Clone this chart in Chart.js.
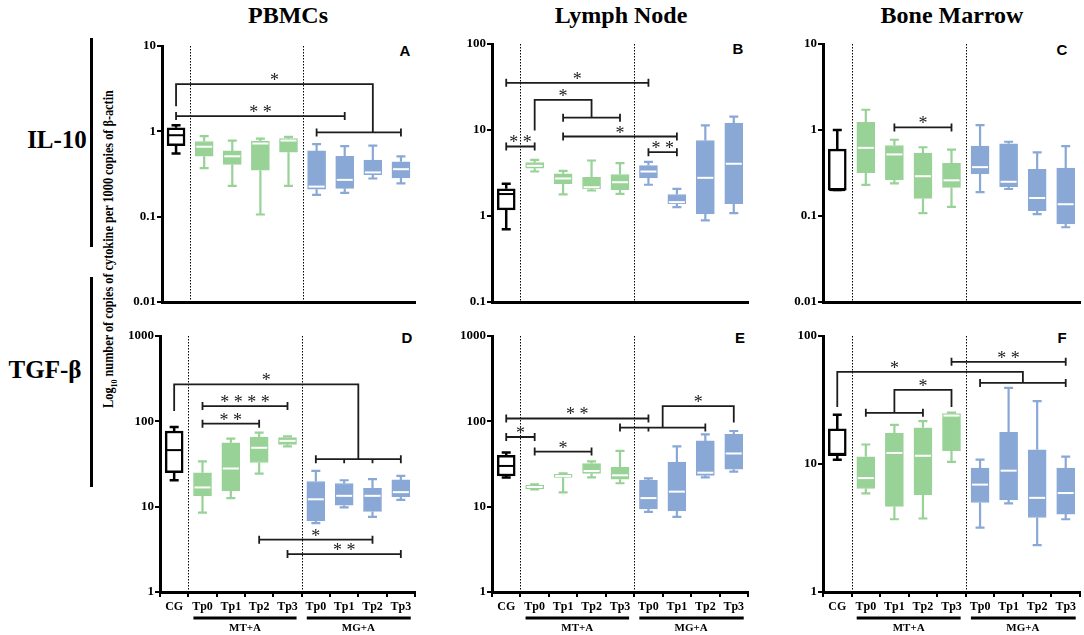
<!DOCTYPE html>
<html>
<head>
<meta charset="utf-8">
<script src="https://cdn.jsdelivr.net/npm/chart.js@4.4.0/dist/chart.umd.min.js"></script>
<style>
body { margin: 0; width: 1084px; height: 635px; position: relative; background: #fff; overflow: hidden; font-family: "Liberation Serif", serif; }
.t { position: absolute; font-weight: bold; white-space: nowrap; color: #000; transform: translate(-50%, -50%); }
.letter { font-family: "Liberation Sans", Arial, sans-serif; font-size: 15px; }
.rule { position: absolute; background: #000; width: 3px; }
canvas { position: absolute; }
</style>
</head>
<body>
<div class="t" style="left:288px;top:15px;font-size:24px">PBMCs</div>
<div class="t" style="left:621px;top:15px;font-size:24px">Lymph Node</div>
<div class="t" style="left:952px;top:15px;font-size:24px">Bone Marrow</div>

<div class="t" style="left:57px;top:140px;font-size:25px">IL-10</div>
<div class="t" style="left:45px;top:370px;font-size:25px">TGF-β</div>
<div class="rule" style="left:90px;top:38px;height:209px"></div>
<div class="rule" style="left:90px;top:277px;height:210px"></div>
<div class="t" id="ytitle" style="left:110px;top:249px;font-size:14px">Log<sub style="font-size:9px">10</sub> number of copies of cytokine per 1000 copies of β-actin</div>

<div class="t letter" style="left:405px;top:50px">A</div>
<div class="t letter" style="left:738px;top:48px">B</div>
<div class="t letter" style="left:1062px;top:49px">C</div>
<div class="t letter" style="left:407px;top:337px">D</div>
<div class="t letter" style="left:740px;top:337px">E</div>
<div class="t letter" style="left:1062px;top:337px">F</div>

<canvas id="pA"></canvas>
<canvas id="pB"></canvas>
<canvas id="pC"></canvas>
<canvas id="pD"></canvas>
<canvas id="pE"></canvas>
<canvas id="pF"></canvas>

<script>
// categories: control, then four time points for each treatment group
const categories = ['CG', 'Tp0', 'Tp1', 'Tp2', 'Tp3', 'Tp0', 'Tp1', 'Tp2', 'Tp3'];
const groupLabels = ['MT+A', 'MG+A'];

// each box: [min, q1, median, q3, max]
const pbmcIL10 = [
    [0.55, 0.68, 0.90, 1.10, 1.18],
    [0.37, 0.51, 0.66, 0.76, 0.88],
    [0.23, 0.41, 0.51, 0.59, 0.78],
    [0.106, 0.35, 0.72, 0.77, 0.82],
    [0.23, 0.57, 0.78, 0.82, 0.86],
    [0.18, 0.21, 0.225, 0.59, 0.71],
    [0.19, 0.215, 0.27, 0.51, 0.67],
    [0.28, 0.31, 0.33, 0.46, 0.68],
    [0.245, 0.285, 0.36, 0.44, 0.51]
];
const lymphIL10 = [
    [0.70, 1.18, 1.8, 2.07, 2.37],
    [3.29, 3.6, 3.83, 4.19, 4.5],
    [1.78, 2.37, 2.73, 3.09, 3.35],
    [1.98, 2.07, 2.16, 2.82, 4.42],
    [1.81, 2.02, 2.47, 3.04, 4.11],
    [2.31, 2.78, 3.29, 3.86, 4.27],
    [1.27, 1.39, 1.45, 1.78, 2.07],
    [0.89, 1.06, 2.78, 7.55, 11.3],
    [1.08, 1.39, 4.05, 12, 14.3]
];
const marrowIL10 = [
    [0.2, 0.2, 0.2, 0.60, 1.0],
    [0.23, 0.32, 0.62, 1.23, 1.72],
    [0.24, 0.264, 0.52, 0.66, 0.77],
    [0.108, 0.16, 0.29, 0.54, 0.63],
    [0.128, 0.215, 0.26, 0.41, 0.59],
    [0.19, 0.31, 0.37, 0.65, 1.14],
    [0.206, 0.22, 0.25, 0.69, 0.73],
    [0.105, 0.115, 0.162, 0.35, 0.55],
    [0.074, 0.081, 0.137, 0.36, 0.65]
];
const pbmcTGF = [
    [20.4, 25, 46, 77, 86],
    [8.5, 13.4, 16.8, 25, 34],
    [12.6, 15.3, 28, 56, 62.7],
    [24.4, 32.9, 49, 65.5, 73.8],
    [51, 53.8, 59, 64.5, 66.8],
    [6.4, 6.8, 12.2, 19.7, 26.2],
    [9.8, 10.4, 13.4, 18.7, 20.4],
    [7.6, 8.8, 13.4, 16.4, 21],
    [12, 13, 14.8, 20.6, 22.9]
];
const lymphTGF = [
    [21.9, 22.9, 30, 40, 43],
    [15.9, 16.3, 17, 17.8, 18.3],
    [14.7, 22, 22.9, 24, 24.6],
    [22, 24.5, 26.2, 32, 34],
    [18.8, 21, 23.3, 29, 45],
    [8.7, 9.4, 12.6, 20.4, 21.5],
    [7.6, 8.9, 15, 33.4, 51],
    [22, 23.3, 25, 59, 70.5],
    [25.8, 27.5, 42, 70.5, 77]
];
const marrowTGF = [
    [10.8, 11.6, 12, 18.8, 24.2],
    [5.9, 6.44, 7.76, 11.4, 14.2],
    [3.7, 4.66, 12.2, 17.4, 20.2],
    [3.75, 5.76, 11.6, 19.2, 21.6],
    [10.4, 12.7, 23.9, 24.8, 25.2],
    [3.18, 5.0, 6.9, 9.3, 10.8],
    [4.92, 5.25, 8.87, 17.7, 39.3],
    [2.32, 3.82, 5.44, 12.9, 31],
    [3.7, 4.06, 5.93, 9.3, 11.4]
];

// y axis decades
const ticksIL10 = [0.01, 0.1, 1, 10];
const ticksLymphIL10 = [0.1, 1, 10, 100];
const ticksTGF = [1, 10, 100, 1000];
const ticksMarrowTGF = [1, 10, 100];

// significance marks: bars {from, to, at} or linked paths [[index, value], ...]
const pbmcIL10Sig = [
    { path: [[0, 1.97], [0, 3.57], [7, 3.57], [7, 0.97]], label: '*' },
    { from: 0, to: 6, at: 1.51, label: '**' },
    { from: 5, to: 8, at: 0.97, label: '' }
];
const lymphIL10Sig = [
    { from: 0, to: 5, at: 35.4, label: '*' },
    { path: [[1, 9.87], [1, 22.4], [3, 22.4], [3, 13.9]], label: '*' },
    { from: 2, to: 4, at: 13.9, label: '' },
    { from: 2, to: 6, at: 8.4, label: '*' },
    { from: 0, to: 1, at: 6.43, label: '**' },
    { from: 5, to: 6, at: 5.52, label: '**' }
];
const marrowIL10Sig = [
    { from: 2, to: 4, at: 1.07, label: '*' }
];
const pbmcTGFSig = [
    { path: [[0, 132], [0, 271], [6.5, 271], [6.5, 36]], label: '*' },
    { from: 5, to: 8, at: 36, ticks: [6, 7], label: '' },
    { from: 1, to: 4, at: 151, label: '****' },
    { from: 1, to: 3, at: 94, label: '**' },
    { from: 3, to: 7, at: 4.1, label: '*' },
    { from: 4, to: 8, at: 2.78, label: '**' }
];
const lymphTGFSig = [
    { from: 0, to: 5, at: 108, label: '**' },
    { from: 0, to: 1, at: 65.5, label: '*' },
    { from: 1, to: 3, at: 44.2, label: '*' },
    { from: 4, to: 7, at: 84.4, ticks: [5], label: '' },
    { path: [[5.5, 84.4], [5.5, 151], [8, 151], [8, 96.6]], label: '*' }
];
const marrowTGFSig = [
    { from: 4, to: 8, at: 62.8, label: '**' },
    { path: [[0, 27.9], [0, 52.4], [6.5, 52.4], [6.5, 43]], label: '*', labelAt: 2 },
    { from: 5, to: 8, at: 43, label: '' },
    { from: 1, to: 3, at: 25.1, label: '' },
    { path: [[2, 25.1], [2, 38], [4, 38], [4, 27.9]], label: '*' }
];

const green = '#98d296';
const blue = '#89a8d6';
const serif = '"Liberation Serif", "Times New Roman", serif';

Chart.defaults.font.family = serif;
Chart.defaults.color = '#000';

const boxPlugin = {
    id: 'boxes',
    afterDatasetsDraw(chart) {
        const { ctx, chartArea: a, scales: { x, y } } = chart;
        const opts = chart.options.plugins.boxes;
        ctx.save();

        // dotted group separators
        ctx.strokeStyle = '#000';
        ctx.lineWidth = 1;
        ctx.setLineDash([1.5, 1.5]);
        [0.5, 4.5].forEach(v => {
            const px = Math.round(x.getPixelForValue(v)) + 0.5;
            ctx.beginPath();
            ctx.moveTo(px, a.top);
            ctx.lineTo(px, a.bottom);
            ctx.stroke();
        });
        ctx.setLineDash([]);

        // whiskers and medians
        opts.values.forEach((b, i) => {
            const cx = x.getPixelForValue(i);
            const [mn, q1, md, q3, mx] = b.map(v => y.getPixelForValue(v));
            ctx.strokeStyle = i === 0 ? '#000' : (i < 5 ? green : blue);
            ctx.lineWidth = i === 0 ? 2.5 : 2.2;
            ctx.beginPath();
            ctx.moveTo(cx, q3); ctx.lineTo(cx, mx);
            ctx.moveTo(cx - 4.5, mx); ctx.lineTo(cx + 4.5, mx);
            ctx.moveTo(cx, q1); ctx.lineTo(cx, mn);
            ctx.moveTo(cx - 4.5, mn); ctx.lineTo(cx + 4.5, mn);
            ctx.stroke();
            ctx.strokeStyle = i === 0 ? '#000' : '#fff';
            ctx.lineWidth = 2;
            ctx.beginPath();
            ctx.moveTo(cx - 8, md);
            ctx.lineTo(cx + 8, md);
            ctx.stroke();
        });

        // significance brackets
        ctx.strokeStyle = '#1c1c1c';
        ctx.fillStyle = '#1c1c1c';
        ctx.lineWidth = 1.8;
        ctx.font = '18px ' + serif;
        ctx.textAlign = 'center';
        ctx.textBaseline = 'alphabetic';
        opts.sig.forEach(s => {
            let lx, ly;
            if (s.path) {
                const pts = s.path.map(([i, v]) => [x.getPixelForValue(i), y.getPixelForValue(v)]);
                ctx.beginPath();
                pts.forEach(([px, py], k) => k ? ctx.lineTo(px, py) : ctx.moveTo(px, py));
                ctx.stroke();
                lx = s.labelAt !== undefined ? x.getPixelForValue(s.labelAt) : (pts[1][0] + pts[2][0]) / 2;
                ly = pts[1][1];
            } else {
                const x0 = x.getPixelForValue(s.from);
                const x1 = x.getPixelForValue(s.to);
                const py = y.getPixelForValue(s.at);
                ctx.beginPath();
                ctx.moveTo(x0, py); ctx.lineTo(x1, py);
                [s.from, s.to].forEach(i => {
                    const px = x.getPixelForValue(i);
                    ctx.moveTo(px, py - 4); ctx.lineTo(px, py + 4);
                });
                (s.ticks || []).forEach(i => {
                    const px = x.getPixelForValue(i);
                    ctx.moveTo(px, py); ctx.lineTo(px, py + 4);
                });
                ctx.stroke();
                lx = (x0 + x1) / 2;
                ly = py;
            }
            if (s.label) {
                ctx.fillText(s.label.split('').join(' '), lx, ly + 2);
            }
        });

        // treatment group bars under the category labels
        if (opts.groups) {
            const gy = a.bottom + 26;
            ctx.strokeStyle = '#000';
            ctx.fillStyle = '#000';
            ctx.lineWidth = 3;
            ctx.font = 'bold 11px ' + serif;
            ctx.textBaseline = 'middle';
            [[0.68, 4.32], [4.68, 8.35]].forEach(([f, t], k) => {
                ctx.beginPath();
                ctx.moveTo(x.getPixelForValue(f), gy);
                ctx.lineTo(x.getPixelForValue(t), gy);
                ctx.stroke();
                ctx.fillText(groupLabels[k], x.getPixelForValue(k === 0 ? 2.5 : 6.5), gy + 10.5);
            });
        }
        ctx.restore();
    }
};

function makePanel(id, values, sig, yTicks, area, bottomRow) {
    const padTop = 12, padRight = 4, yW = 52;
    const xH = bottomRow ? 635 - area.bottom : 12;
    const left = area.left - yW;
    const top = area.top - padTop;
    const canvas = document.getElementById(id);
    canvas.width = area.right + padRight - left;
    canvas.height = area.bottom + xH - top;
    canvas.style.left = left + 'px';
    canvas.style.top = top + 'px';

    const colors = values.map((_, i) => i === 0 ? '#fff' : (i < 5 ? green : blue));
    const borders = values.map((_, i) => i === 0 ? '#000' : (i < 5 ? green : blue));

    new Chart(canvas.getContext('2d'), {
        type: 'bar',
        data: {
            labels: categories,
            datasets: [{
                data: values.map(b => [b[1], b[3]]),
                backgroundColor: colors,
                borderColor: borders,
                borderWidth: values.map((_, i) => i === 0 ? 2.5 : 1),
                borderSkipped: false,
                barThickness: 18
            }]
        },
        options: {
            responsive: false,
            animation: false,
            devicePixelRatio: 1,
            layout: { padding: { top: padTop, right: padRight, left: 0, bottom: 0 } },
            scales: {
                x: {
                    offset: true,
                    border: { display: true, color: '#000', width: 3 },
                    grid: { display: bottomRow, drawOnChartArea: false, color: '#000', lineWidth: 2, tickLength: 5 },
                    ticks: {
                        display: bottomRow,
                        color: '#000',
                        padding: 3,
                        font: { size: 12, weight: 'bold', family: serif },
                        maxRotation: 0,
                        autoSkip: false
                    },
                    afterFit: s => { s.height = xH; }
                },
                y: {
                    type: 'logarithmic',
                    min: yTicks[0],
                    max: yTicks[yTicks.length - 1],
                    border: { display: true, color: '#000', width: 3 },
                    grid: { drawOnChartArea: false, color: '#000', lineWidth: 2, tickLength: 5 },
                    ticks: {
                        color: '#000',
                        padding: 1,
                        font: { size: 13, weight: 'bold', family: serif },
                        callback: v => String(v)
                    },
                    afterBuildTicks: s => { s.ticks = yTicks.map(v => ({ value: v })); },
                    afterFit: s => { s.width = yW; }
                }
            },
            plugins: {
                legend: { display: false },
                tooltip: { enabled: false },
                boxes: { values: values, sig: sig, groups: bottomRow }
            }
        },
        plugins: [boxPlugin]
    });
}

makePanel('pA', pbmcIL10, pbmcIL10Sig, ticksIL10, { left: 162, right: 415, top: 46, bottom: 302 }, false);
makePanel('pB', lymphIL10, lymphIL10Sig, ticksLymphIL10, { left: 492, right: 748, top: 44, bottom: 302 }, false);
makePanel('pC', marrowIL10, marrowIL10Sig, ticksIL10, { left: 823, right: 1080, top: 44, bottom: 302 }, false);
makePanel('pD', pbmcTGF, pbmcTGFSig, ticksTGF, { left: 160, right: 415, top: 336, bottom: 592 }, true);
makePanel('pE', lymphTGF, lymphTGFSig, ticksTGF, { left: 492, right: 748, top: 336, bottom: 592 }, true);
makePanel('pF', marrowTGF, marrowTGFSig, ticksMarrowTGF, { left: 823, right: 1080, top: 336, bottom: 592 }, true);

// stretch the rotated axis title to the length it has in the figure
const yt = document.getElementById('ytitle');
const sx = 318 / yt.offsetWidth;
yt.style.transform = 'translate(-50%, -50%) rotate(-90deg) scaleX(' + sx + ')';
</script>
</body>
</html>
